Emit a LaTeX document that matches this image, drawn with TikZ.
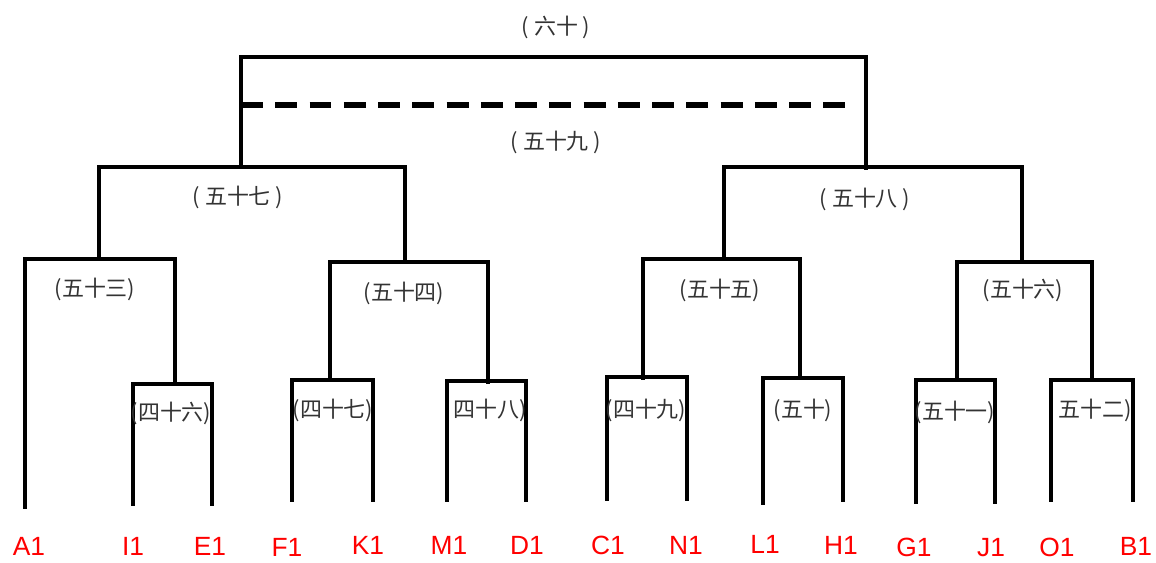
\documentclass[tikz,border=0pt]{standalone}
\usepackage{fontspec}
\setmainfont{Liberation Sans}
\newfontfamily\cjk{Noto Sans CJK SC}
\begin{document}
\begin{tikzpicture}[x=0.02cm,y=-0.02cm,
  br/.style={line width=2.6pt,line cap=rect},
  leaf/.style={text=red,font=\fontsize{15}{15}\selectfont,inner sep=0pt},
  cl/.style={text=black!80,font=\cjk\fontsize{12.5}{12.5}\selectfont,inner sep=0pt}]
\useasboundingbox (0,0) rectangle (1156,563);
% top
\draw[br] (241,165) -- (241,57) -- (866,57) -- (866,168);
\draw[line width=2.9pt,dash pattern=on 12.5pt off 7pt] (241,105) -- (850,105);
% 57 and 58
\draw[br] (99,258) -- (99,167) -- (405,167) -- (405,260);
\draw[br] (724,259) -- (724,167) -- (1022,167) -- (1022,259);
% 53
\draw[br] (25,507) -- (25,259) -- (175,259) -- (175,380);
\draw[br] (133,504) -- (133,384) -- (212,384) -- (212,504);
% 54
\draw[br] (330,380) -- (330,262) -- (488,262) -- (488,382);
\draw[br] (292,500) -- (292,380) -- (373,380) -- (373,500);
\draw[br] (447,500) -- (447,381) -- (526,381) -- (526,500);
% 55
\draw[br] (643,378) -- (643,259) -- (800,259) -- (800,378);
\draw[br] (607,499) -- (607,377) -- (687,377) -- (687,499);
\draw[br] (763,503) -- (763,378) -- (843,378) -- (843,500);
% 56
\draw[br] (957,380) -- (957,262) -- (1092,262) -- (1092,380);
\draw[br] (916,502) -- (916,380) -- (995,380) -- (995,502);
\draw[br] (1051,500) -- (1051,380) -- (1133,380) -- (1133,500);
% cluster labels
\node[cl] (c60) at (556,27) {( 六十 )};
\node[cl] (c59) at (556,142) {( 五十九 )};
\node[cl] (c57) at (238,197) {( 五十七 )};
\node[cl] (c58) at (865,199) {( 五十八 )};
\node[cl] (c53) at (95,289) {(五十三)};
\node[cl] (c46) at (171,413) {(四十六)};
\node[cl] (c54) at (404,293) {(五十四)};
\node[cl] (c47) at (333,410) {(四十七)};
\node[cl] (c48) at (490,410) {四十八)};
\node[cl] (c55) at (720,290) {(五十五)};
\node[cl] (c49) at (646,410) {(四十九)};
\node[cl] (c50) at (803,410) {(五十)};
\node[cl] (c56) at (1023,290) {(五十六)};
\node[cl] (c51) at (955,412) {(五十一)};
\node[cl] (c52) at (1095,410) {五十二)};
% leaves
\node[leaf] (A1) at (29,546) {A1};
\node[leaf] (I1) at (133,546) {I1};
\node[leaf] (E1) at (210,546) {E1};
\node[leaf] (F1) at (287,547) {F1};
\node[leaf] (K1) at (368,545) {K1};
\node[leaf] (M1) at (449,545) {M1};
\node[leaf] (D1) at (527,545) {D1};
\node[leaf] (C1) at (608,545) {C1};
\node[leaf] (N1) at (686,545) {N1};
\node[leaf] (L1) at (765,544) {L1};
\node[leaf] (H1) at (841,545) {H1};
\node[leaf] (G1) at (914,547) {G1};
\node[leaf] (J1) at (991,548) {J1};
\node[leaf] (O1) at (1057,547) {O1};
\node[leaf] (B1) at (1136,546) {B1};
\end{tikzpicture}
\end{document}
